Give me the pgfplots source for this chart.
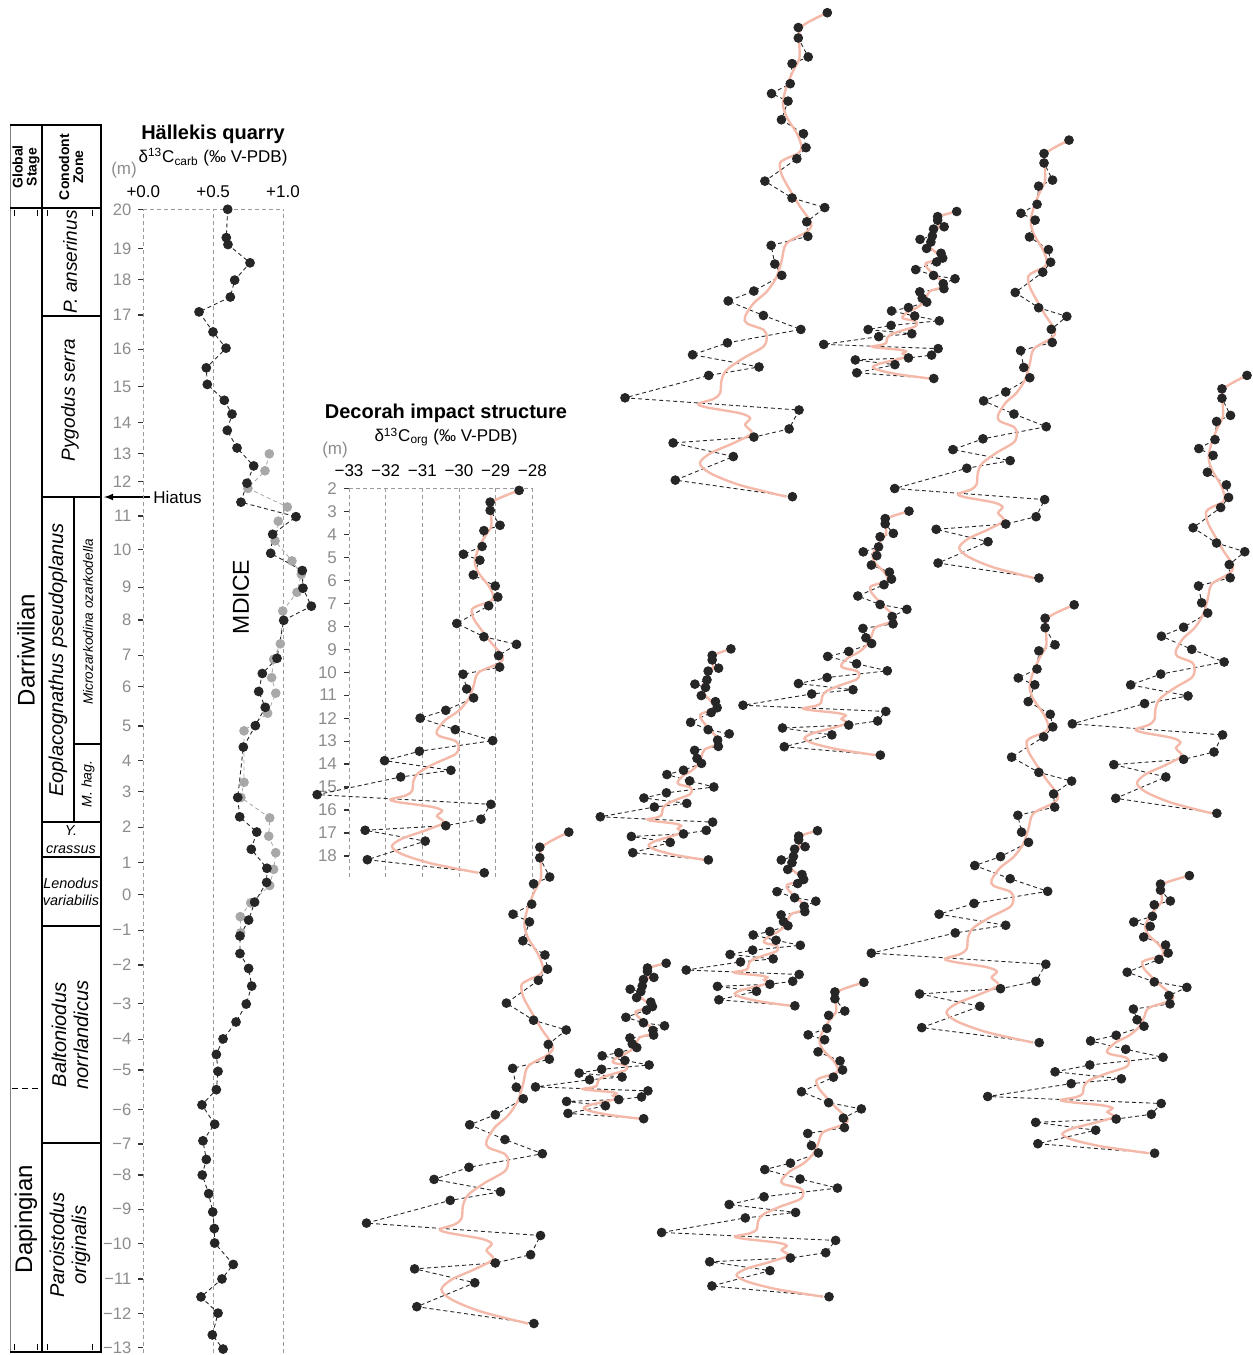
\documentclass[border=0pt]{standalone}
\usepackage{fontspec}
\setmainfont{Liberation Sans}
\usepackage{pgfplots}
\pgfplotsset{compat=1.18}
\usepackage{pgfplotstable}

\definecolor{dot}{HTML}{262626}
\definecolor{pinkc}{HTML}{F4B9A9}
\definecolor{gridc}{HTML}{9A9A9A}
\definecolor{labc}{HTML}{8C8C8C}
\definecolor{grayd}{HTML}{A8A8A8}
\newcommand\fs[1]{\fontsize{#1}{#1}\selectfont}

% Decorah d13C org, depth (m) vs permil
\pgfplotstableread{
d c
2.09 -28.36
2.60 -29.15
2.96 -29.15
3.61 -28.88
3.84 -29.32
4.53 -29.37
4.87 -29.88
5.13 -29.43
5.77 -29.61
6.25 -29.01
6.73 -28.94
7.11 -29.19
7.88 -30.06
8.46 -29.32
8.79 -28.43
9.28 -28.92
9.78 -28.89
10.09 -29.89
10.73 -29.79
11.12 -29.60
11.66 -30.36
12.00 -31.06
12.50 -30.10
12.98 -29.08
13.44 -31.08
13.85 -32.03
14.27 -30.22
14.56 -31.59
15.33 -33.87
15.75 -29.13
16.40 -29.40
16.68 -30.36
16.88 -32.56
17.35 -30.92
18.16 -32.50
18.73 -29.31
}\dectab

% smoothed trend
\pgfplotstableread{
d c
2.09 -28.36
2.57 -29.06
3.14 -29.12
3.66 -29.12
4.06 -29.28
4.63 -29.47
5.20 -29.57
5.67 -29.47
6.24 -29.19
6.70 -29.06
6.92 -29.15
7.10 -29.47
7.27 -29.65
7.67 -29.60
8.18 -29.38
8.76 -29.10
9.33 -28.80
9.62 -28.92
10.02 -29.47
10.59 -29.60
11.17 -29.74
11.68 -30.01
12.08 -30.37
12.54 -30.60
12.77 -30.55
12.99 -30.10
13.23 -30.01
13.57 -30.10
13.97 -30.65
14.37 -31.10
14.72 -31.24
15.17 -31.28
15.37 -31.46
15.54 -31.87
15.66 -31.64
15.86 -30.74
16.03 -30.46
16.26 -30.60
16.55 -30.42
16.89 -30.92
17.24 -31.55
17.58 -31.83
17.92 -31.55
18.33 -30.74
18.73 -29.47
}\pinktab

\pgfplotsset{
  dashln/.style={black!85, line width=0.45pt, dash pattern=on 2pt off 1.5pt, no marks},
  pinkln/.style={pinkc, line width=1.2pt, smooth, no marks},
  dotmk/.style={only marks, mark=*, mark size=2.2pt, mark options={fill=dot, draw=dot, solid}},
  copyax/.style={hide axis, scale only axis, anchor=north west,
    xmin=-33.87, xmax=-28.36, ymin=2.09, ymax=18.73, y dir=reverse, clip=false},
}
\newcommand\decplots{%
  \addplot[dashln] table[x=c,y=d]{\dectab};
  \addplot[pinkln] table[x=c,y=d]{\pinktab};
  \addplot[dotmk] table[x=c,y=d]{\dectab};
}

\begin{document}
\begin{tikzpicture}
\useasboundingbox (0pt,0pt) rectangle (626.5pt,-677.5pt);

% ---------- stratigraphic column (pixel coordinates) ----------
\begin{scope}[x=0.5pt,y=-0.5pt]
  \draw[gray, line width=0.5pt] (10,125) -- (10,1352);
  \draw[black, line width=0.8pt] (10,125) -- (101,125) -- (101,1352) -- (10,1352);
  \draw[black, line width=0.8pt] (42,125) -- (42,1352);
  \draw[black, line width=0.8pt] (10,208) -- (101,208);
  \foreach \yy in {316,497,822,857,926,1143}
    \draw[black, line width=0.8pt] (42,\yy) -- (101,\yy);
  \draw[black, line width=0.8pt] (74,497) -- (74,822);
  \draw[black, line width=0.8pt] (74,744) -- (101,744);
  \draw[black, dash pattern=on 3pt off 2pt, line width=0.4pt] (12,1088) -- (42,1088);
  \foreach \xx in {14,37,47,92} {
    \draw[line width=0.3pt] (\xx,210) -- (\xx,216);
    \draw[line width=0.3pt] (\xx,1344) -- (\xx,1350);
  }
  \node[rotate=90, font=\bfseries\fontsize{7}{7}\selectfont, align=center] at (26,167) {Global\\Stage};
  \node[rotate=90, font=\bfseries\fontsize{7}{7}\selectfont, align=center] at (71,167) {Conodont\\Zone};
  \node[rotate=90, font=\fs{12}] at (26,650) {Darriwilian};
  \node[rotate=90, font=\fs{12}] at (26,1219) {Dapingian};
  \node[rotate=90, font=\itshape\fs{9.5}] at (70,262) {P. anserinus};
  \node[rotate=90, font=\itshape\fs{9.5}] at (70,400) {Pygodus serra};
  \node[rotate=90, font=\itshape\fs{10}] at (58,660) {Eoplacognathus pseudoplanus};
  \node[rotate=90, font=\itshape\fs{6.8}] at (88,622) {Microzarkodina ozarkodella};
  \node[rotate=90, font=\itshape\fs{7}] at (88,784) {M. hag.};
  \node[font=\itshape\fontsize{7.2}{9}\selectfont, align=center] at (71,840) {Y.\\crassus};
  \node[font=\itshape\fontsize{7.2}{8.5}\selectfont, align=center] at (71,892) {Lenodus\\variabilis};
  \node[rotate=90, font=\itshape\fontsize{10}{11}\selectfont, align=center] at (70,1035) {Baltoniodus\\norrlandicus};
  \node[rotate=90, font=\itshape\fontsize{10}{11}\selectfont, align=center] at (70,1245) {Paroistodus\\originalis};

  % titles and labels
  \node[font=\bfseries\fs{10}] at (213,134) {Hällekis quarry};
  \node[font=\fs{8.5}] at (213,157) {δ\textsuperscript{13}C\textsubscript{carb} (‰ V-PDB)};
  \node[font=\fs{8.5}, text=labc] at (124,170) {(m)};
  \node[font=\bfseries\fs{10}] at (446,413) {Decorah impact structure};
  \node[font=\fs{8.5}] at (446,437) {δ\textsuperscript{13}C\textsubscript{org} (‰ V-PDB)};
  \node[font=\fs{8.5}, text=labc] at (335,450) {(m)};
  \draw[-latex, line width=0.6pt] (150,497) -- (104,497);
  \node[anchor=west, font=\fs{8.5}, inner sep=1pt] at (151,497) {Hiatus};
  \node[rotate=90, font=\fs{11.5}] at (241,597) {MDICE};
\end{scope}

% ---------- Hällekis quarry ----------
\begin{axis}[
  at={(71.65pt,-104.65pt)}, anchor=north west, scale only axis,
  width=69.85pt, height=571.6pt,
  xmin=0, xmax=1, ymin=-13.1, ymax=20, clip=false,
  axis line style={draw=none},
  xtick={0,0.5,1}, xticklabels={+0.0,+0.5,+1.0}, xticklabel pos=upper,
  x tick style={draw=none},
  xticklabel style={font=\fs{8.5}, text=black},
  xmajorgrids, grid style={gridc, dash pattern=on 2pt off 1.5pt, line width=0.4pt},
  ytick={20,18.87,17.97,16.94,15.95,14.86,13.83,12.93,12.11,11.12,10.14,9.06,8.11,7.09,6.18,5.04,4.03,3.14,2.11,1.09,0.15,-0.87,-1.88,-2.99,-4.03,-4.92,-6.06,-7.06,-7.96,-8.95,-9.94,-10.97,-11.97,-12.95},
  yticklabels={20,19,18,17,16,15,14,13,12,11,10,9,8,7,6,5,4,3,2,1,0,−1,−2,−3,−4,−5,−6,−7,−8,−9,−10,−11,−12,−13},
  ytick pos=left, tick align=outside, major tick length=2.5pt,
  y tick style={black!80, line width=0.6pt},
  yticklabel style={font=\fs{8.3}, text=labc, inner ysep=0.5pt},
]
\draw[gridc, dash pattern=on 2pt off 1.5pt, line width=0.4pt] (axis cs:0,20) -- (axis cs:1,20);
\addplot[grayd, line width=0.4pt, dash pattern=on 2pt off 1.5pt, mark=*, mark size=2.2pt,
  mark options={solid, fill=grayd, draw=grayd}] table[x=x,y=y]{
x y
0.902 12.92
0.871 12.43
0.749 11.92
1.031 11.38
0.966 10.97
0.943 10.40
1.064 9.82
1.131 9.43
1.100 8.91
0.998 8.37
0.981 7.42
0.933 6.97
0.919 6.44
0.948 5.99
0.890 5.41
0.721 4.90
0.721 3.41
0.699 2.97
0.905 2.38
0.898 1.85
0.948 1.37
0.933 0.89
0.905 0.42
0.769 -0.08
0.694 -0.48
0.697 -0.95
};
\addplot[black!85, line width=0.45pt, dash pattern=on 2pt off 1.5pt, mark=*, mark size=2.2pt,
  mark options={solid, fill=dot, draw=dot}] table[x=x,y=y]{
x y
0.604 20.00
0.594 19.18
0.606 18.98
0.764 18.45
0.654 17.95
0.623 17.46
0.399 17.03
0.499 16.45
0.592 15.98
0.451 15.41
0.458 14.93
0.580 14.47
0.635 14.07
0.601 13.60
0.671 13.09
0.790 12.57
0.742 12.07
0.699 11.52
1.093 11.10
0.926 10.59
0.912 10.04
1.138 9.54
1.143 9.03
1.203 8.51
1.005 8.10
0.957 7.00
0.852 6.56
0.826 6.04
0.873 5.58
0.802 5.05
0.716 4.43
0.676 2.97
0.690 2.41
0.812 1.97
0.773 1.47
0.885 0.92
0.883 0.51
0.797 -0.06
0.754 -0.58
0.692 -1.04
0.692 -1.55
0.754 -1.98
0.776 -2.49
0.737 -3.01
0.664 -3.53
0.571 -4.02
0.523 -4.47
0.535 -4.96
0.523 -5.49
0.420 -5.93
0.511 -6.49
0.427 -6.97
0.451 -7.51
0.422 -7.96
0.468 -8.50
0.497 -9.03
0.508 -9.51
0.511 -9.93
0.644 -10.55
0.563 -10.97
0.413 -11.49
0.535 -11.96
0.494 -12.59
0.571 -13.00
};
\end{axis}

% ---------- Decorah impact structure ----------
\begin{axis}[
  at={(174.5pt,-244.15pt)}, anchor=north west, scale only axis,
  width=91.65pt, height=194.2pt,
  xmin=-33, xmax=-28, ymin=2, ymax=18.9, y dir=reverse, clip=false,
  axis line style={draw=none},
  xtick={-33,-32,-31,-30,-29,-28}, xticklabels={−33,−32,−31,−30,−29,−28},
  xticklabel pos=upper, x tick style={draw=none},
  xticklabel style={font=\fs{8.5}, text=black},
  xmajorgrids, grid style={gridc, dash pattern=on 2pt off 1.5pt, line width=0.4pt},
  ytick={2,3,...,18}, ytick pos=left, tick align=outside, major tick length=2.5pt,
  y tick style={black!80, line width=0.6pt},
  yticklabel style={font=\fs{8.5}, text=labc, /pgf/number format/assume math mode=true},
]
\draw[gridc, dash pattern=on 2pt off 1.5pt, line width=0.4pt] (axis cs:-33,2) -- (axis cs:-28,2);
\decplots
\end{axis}

% ---------- repeated Decorah curves ----------
\begin{axis}[copyax, at={(312.5pt,-6.35pt)}, width=101.15pt, height=242pt]\decplots\end{axis}
\begin{axis}[copyax, at={(411.85pt,-105.75pt)}, width=66.5pt, height=83.5pt]\decplots\end{axis}
\begin{axis}[copyax, at={(447.35pt,-70.05pt)}, width=87.15pt, height=218.95pt]\decplots\end{axis}
\begin{axis}[copyax, at={(536.15pt,-187.7pt)}, width=87.35pt, height=218.95pt]\decplots\end{axis}
\begin{axis}[copyax, at={(371.5pt,-255.55pt)}, width=83pt, height=122pt]\decplots\end{axis}
\begin{axis}[copyax, at={(300.15pt,-324.45pt)}, width=65.3pt, height=105.5pt]\decplots\end{axis}
\begin{axis}[copyax, at={(435.65pt,-302.4pt)}, width=101.45pt, height=218.9pt]\decplots\end{axis}
\begin{axis}[copyax, at={(183.25pt,-416.05pt)}, width=101.15pt, height=245.7pt]\decplots\end{axis}
\begin{axis}[copyax, at={(343.1pt,-415.35pt)}, width=65.65pt, height=87.55pt]\decplots\end{axis}
\begin{axis}[copyax, at={(267.75pt,-481.6pt)}, width=65.35pt, height=77.75pt]\decplots\end{axis}
\begin{axis}[copyax, at={(330.8pt,-491.15pt)}, width=101.15pt, height=157.2pt]\decplots\end{axis}
\begin{axis}[copyax, at={(493.85pt,-437.8pt)}, width=100.85pt, height=138.8pt]\decplots\end{axis}
\end{tikzpicture}
\end{document}
